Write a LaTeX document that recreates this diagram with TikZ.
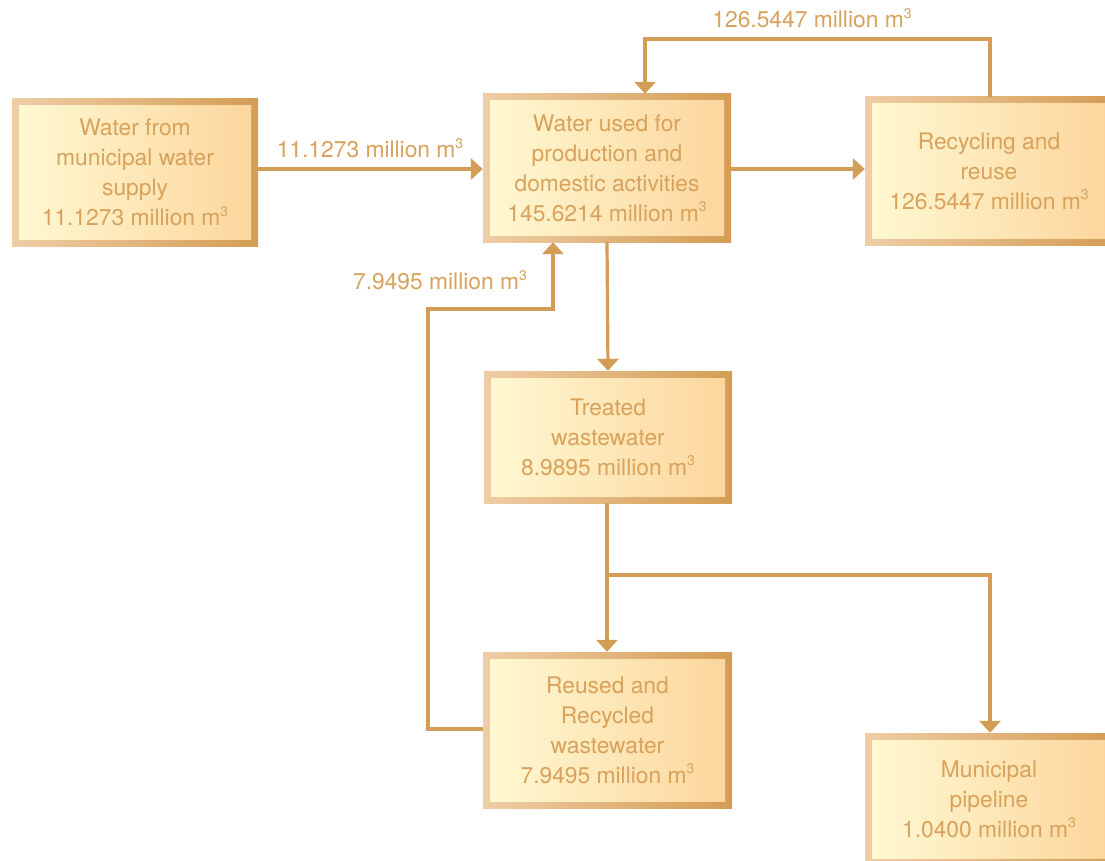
\documentclass[tikz,border=0pt]{standalone}
\usepackage{fontspec}
\setmainfont{TeX Gyre Heros}
\usetikzlibrary{arrows.meta}
\definecolor{linec}{HTML}{D49D55}
\definecolor{textc}{HTML}{D8A25C}
\definecolor{bordL}{HTML}{EFCDA5}
\definecolor{bordR}{HTML}{D49D55}
\definecolor{fillL}{HTML}{FFF9D3}
\definecolor{fillR}{HTML}{FCD59C}
\tikzset{
  gbox/.style={rectangle, inner sep=0pt, minimum width=248pt, align=center,
    font=\fontsize{22.8}{30}\selectfont, text=textc,
    left color=bordL, right color=bordR,
    path picture={\shade[left color=fillL,right color=fillR]
      ([shift={(7pt,7pt)}]path picture bounding box.south west) rectangle
      ([shift={(-7pt,-7pt)}]path picture bounding box.north east);}},
  arr/.style={draw=linec, line width=3.2pt, -{Triangle[width=21pt,length=12pt]}},
  lbl/.style={font=\fontsize{22.8}{30}\selectfont, text=textc, inner sep=0pt}
}
\newcommand{\mcube}{m\raisebox{0.42em}{\fontsize{14}{14}\selectfont 3}}
\begin{document}
\begin{tikzpicture}[x=1pt,y=-1pt]
\clip (0,0) rectangle (1105,861);
\fill[white] (0,0) rectangle (1105,861);
\node[gbox, minimum width=246pt, minimum height=147pt] (A) at (135,172.5)
  {Water from\\municipal water\\supply\\11.1273 million \mcube};
\node[gbox, minimum height=148pt] (B) at (607,168)
  {Water used for\\production and\\domestic activities\\145.6214 million \mcube};
\node[gbox, minimum height=148pt] (C) at (989,171)
  {Recycling and\\reuse\\126.5447 million \mcube};
\node[gbox, minimum height=132pt] (D) at (608,437)
  {Treated\\wastewater\\8.9895 million \mcube};
\node[gbox, minimum width=249pt, minimum height=156pt] (E) at (607.5,730)
  {Reused and\\Recycled\\wastewater\\7.9495 million \mcube};
\node[gbox, minimum height=132pt] (F) at (989,799)
  {Municipal\\pipeline\\1.0400 million \mcube};

\coordinate (t1) at (645,39);
\coordinate (sp) at (607,575);
\coordinate (l1) at (428,309);
\coordinate (l2) at (553,309);

\draw[arr] (A.east |- 0,169) -- (B.west |- 0,169);
\draw[arr] (B.east |- 0,169) -- (C.west |- 0,169);
\draw[arr] (C.north -| 990,0) |- (t1) -- (t1 |- B.north);
\draw[arr] (B.south) -- (D.north);
\draw[arr] (D.south -| sp) -- (E.north -| sp);
\draw[arr] (sp) -| (F.north -| 990,0);
\draw[arr] (E.west |- 0,729) -| (l1) -- (l2) -- (l2 |- B.south);

\node[lbl] (L1) at (370,148) {11.1273 million \mcube};
\node[lbl] (L2) at (812,18) {126.5447 million \mcube};
\node[lbl] (L3) at (440,280) {7.9495 million \mcube};
\end{tikzpicture}
\end{document}
